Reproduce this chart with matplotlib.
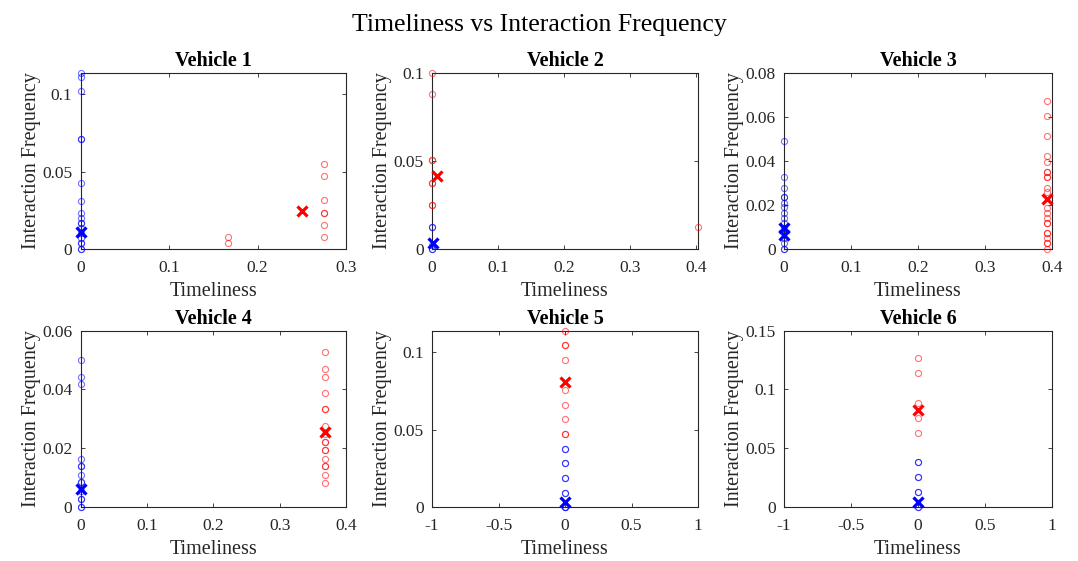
"""Timeliness vs interaction frequency, k-means clusters per vehicle."""

import matplotlib

matplotlib.use("Agg")
import matplotlib.pyplot as plt

plt.rcParams["font.family"] = ["Liberation Serif", "DejaVu Serif"]

VEHICLES = ["Vehicle 1", "Vehicle 2", "Vehicle 3", "Vehicle 4", "Vehicle 5", "Vehicle 6"]

# cluster 1 (blue) points
BLUE_X = [
    [0.0] * 18,
    [0.0] * 5,
    [0.0] * 16,
    [0.0] * 14,
    [0.0] * 11,
    [0.0] * 8,
]
BLUE_Y = [
    [0.114, 0.111, 0.102, 0.071, 0.071, 0.043, 0.031, 0.023, 0.020, 0.017, 0.017,
     0.0135, 0.0105, 0.007, 0.004, 0.004, 0.0, 0.0],
    [0.0125, 0.0125, 0.0025, 0.0, 0.0],
    [0.0489, 0.0326, 0.0279, 0.0234, 0.0234, 0.0211, 0.0189, 0.0165, 0.0142,
     0.0118, 0.0095, 0.0072, 0.0048, 0.0026, 0.0, 0.0],
    [0.0499, 0.0444, 0.0417, 0.0165, 0.0138, 0.0138, 0.011, 0.0084, 0.0084,
     0.0055, 0.0027, 0.0027, 0.0, 0.0],
    [0.0378, 0.0378, 0.0284, 0.0284, 0.0187, 0.0187, 0.0092, 0.0092, 0.0, 0.0, 0.0],
    [0.0379, 0.0379, 0.0252, 0.0252, 0.0125, 0.0125, 0.0, 0.0],
]

# cluster 2 (red) points
RED_X = [
    [0.1664, 0.1664, 0.2746, 0.2746, 0.2746, 0.2746, 0.2746, 0.2746, 0.2746],
    [0.0] * 8 + [0.403],
    [0.3925] * 22,
    [0.3678] * 17,
    [0.0] * 9,
    [0.0] * 5,
]
RED_Y = [
    [0.0077, 0.0039, 0.0548, 0.0471, 0.0314, 0.0234, 0.0234, 0.0157, 0.0077],
    [0.1, 0.0877, 0.0502, 0.0502, 0.0374, 0.0374, 0.0249, 0.0249, 0.0125],
    [0.0673, 0.0604, 0.0512, 0.042, 0.0395, 0.035, 0.035, 0.0326, 0.0326, 0.0279,
     0.0257, 0.0187, 0.0165, 0.0142, 0.0118, 0.0118, 0.0072, 0.0072, 0.0048,
     0.0026, 0.0026, 0.0],
    [0.0527, 0.0471, 0.0444, 0.0388, 0.0333, 0.0333, 0.0277, 0.025, 0.0222,
     0.0222, 0.0194, 0.0194, 0.0165, 0.0138, 0.0138, 0.011, 0.0081],
    [0.114, 0.1045, 0.1045, 0.0948, 0.0759, 0.0662, 0.0568, 0.0473, 0.0473],
    [0.1265, 0.1138, 0.0886, 0.0756, 0.0628],
]

# centroids
BLUE_CX = [[0.0], [0.0015], [0.0, 0.0], [0.0], [0.0], [0.0]]
BLUE_CY = [[0.0108], [0.0034], [0.0095, 0.0062], [0.0062], [0.003], [0.004]]
RED_CX = [[0.2504], [0.0076], [0.3925], [0.3678], [0.0], [0.0]]
RED_CY = [[0.0243], [0.0415], [0.0229], [0.0256], [0.0811], [0.0826]]

XLIMS = [(0, 0.3), (0, 0.403), (0, 0.4), (0, 0.4), (-1, 1), (-1, 1)]
YLIMS = [(0, 0.114), (0, 0.1), (0, 0.08), (0, 0.06), (0, 0.114), (0, 0.15)]
XTICKS = [
    ["0", "0.1", "0.2", "0.3"],
    ["0", "0.1", "0.2", "0.3", "0.4"],
    ["0", "0.1", "0.2", "0.3", "0.4"],
    ["0", "0.1", "0.2", "0.3", "0.4"],
    ["-1", "-0.5", "0", "0.5", "1"],
    ["-1", "-0.5", "0", "0.5", "1"],
]
YTICKS = [
    ["0", "0.05", "0.1"],
    ["0", "0.05", "0.1"],
    ["0", "0.02", "0.04", "0.06", "0.08"],
    ["0", "0.02", "0.04", "0.06"],
    ["0", "0.05", "0.1"],
    ["0", "0.05", "0.1", "0.15"],
]

W, H = 1078, 561
AX_COLS = [(80.7, 346), (432, 698), (784, 1052)]
AX_ROWS = [(72.7, 249), (330.7, 507)]
GRAY = "#262626"

fig = plt.figure(figsize=(W / 100, H / 100), dpi=100)

for i, name in enumerate(VEHICLES):
    (x0, x1), (y0, y1) = AX_COLS[i % 3], AX_ROWS[i // 3]
    ax = fig.add_axes([x0 / W, 1 - y1 / H, (x1 - x0) / W, (y1 - y0) / H])

    ax.plot(BLUE_X[i], BLUE_Y[i], "o", ms=4.4, mfc="none", mec="blue",
            mew=0.8, alpha=0.55, clip_on=False, zorder=3)
    ax.plot(RED_X[i], RED_Y[i], "o", ms=4.4, mfc="none", mec="red",
            mew=0.8, alpha=0.55, clip_on=False, zorder=3)
    ax.plot(BLUE_CX[i], BLUE_CY[i], "x", ms=7, mec="blue", mew=2.3,
            clip_on=False, zorder=4)
    ax.plot(RED_CX[i], RED_CY[i], "x", ms=7, mec="red", mew=2.3,
            clip_on=False, zorder=4)

    ax.set_xlim(*XLIMS[i])
    ax.set_ylim(*YLIMS[i])
    ax.set_xticks([float(t) for t in XTICKS[i]])
    ax.set_xticklabels(XTICKS[i])
    ax.set_yticks([float(t) for t in YTICKS[i]])
    ax.set_yticklabels(YTICKS[i])
    ax.tick_params(direction="in", length=3, width=0.6, top=True, right=True,
                   labelsize=12.5, colors=GRAY)
    ax.tick_params(axis="x", pad=8)
    ax.tick_params(axis="y", pad=6)
    for sp in ax.spines.values():
        sp.set_linewidth(0.8)
        sp.set_color(GRAY)

    ax.set_title(name, fontsize=14.5, fontweight="bold", pad=5)
    ax.set_xlabel("Timeliness", fontsize=14.5, color=GRAY, labelpad=4)
    ax.set_ylabel("Interaction Frequency", fontsize=14.5, color=GRAY, labelpad=1)

fig.suptitle("Timeliness vs Interaction Frequency", fontsize=18.5, y=0.975)

fig.savefig("out.png", dpi=100)
